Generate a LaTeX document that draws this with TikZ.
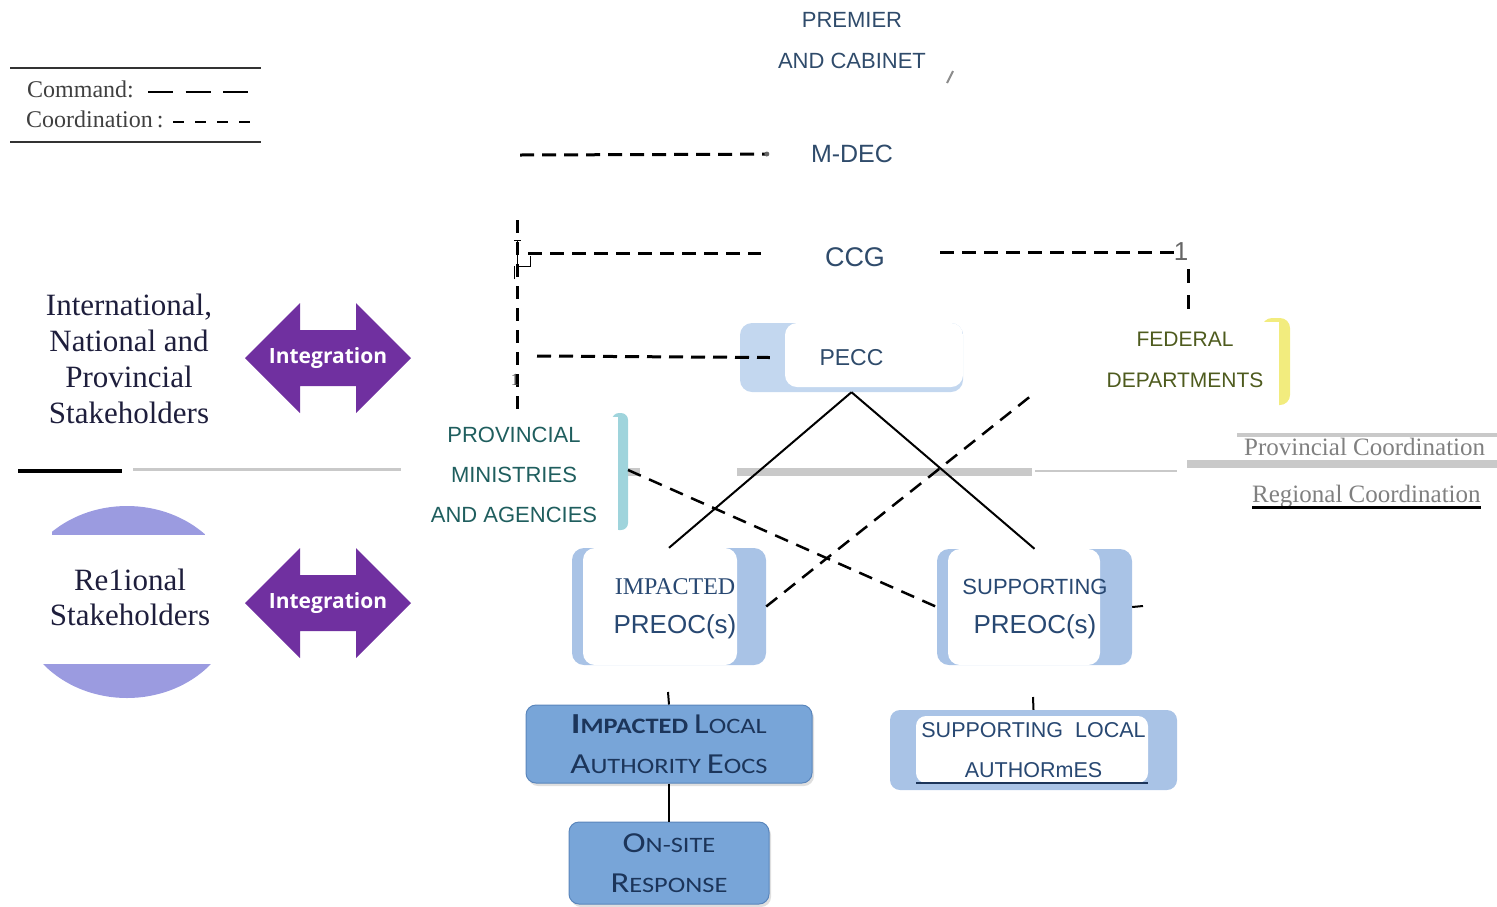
\documentclass[tikz,border=0pt]{standalone}
\usepackage{amssymb,amsmath}
\usepackage{fontspec}
\usepackage{tikz}
\usepackage{xcolor}
\usetikzlibrary{shadows}

\setmainfont{Liberation Serif}
\setsansfont{Liberation Sans}
\newfontfamily\calibfont[FakeStretch=1.2]{Carlito}
\newfontfamily\integfont{Open Sans}

\newcommand{\bigsc}[1]{{\fontsize{29}{40}\selectfont #1}}
\newcommand{\smsc}[1]{{\fontsize{22}{40}\selectfont #1}}

\definecolor{govblue}{HTML}{2F4B6B}
\definecolor{preoctext}{HTML}{284872}
\definecolor{fedgreen}{HTML}{4E5B1E}
\definecolor{pmateal}{HTML}{1F5E5E}
\definecolor{stripblue}{HTML}{A9C3E6}
\definecolor{peccblue}{HTML}{C3D7EF}
\definecolor{boxblue}{HTML}{78A5D8}
\definecolor{boxedge}{HTML}{5A86BC}
\definecolor{navy}{HTML}{1C355A}
\definecolor{intpurple}{HTML}{7030A0}
\definecolor{regfill}{HTML}{9B9BE0}
\definecolor{fedyellow}{HTML}{F2EC7E}
\definecolor{tealbar}{HTML}{9FD4DC}
\definecolor{linegray}{HTML}{C9C9C9}
\definecolor{darktext}{HTML}{1E1E3C}

\begin{document}
\begin{tikzpicture}[
    x = 1pt, y = -1pt, % one unit per pixel, y going down
    command/.style = {line width = 3pt, dash pattern = on 14pt off 8pt}, % command links
    coordline/.style = {line width = 2.5pt, dash pattern = on 14pt off 9pt}, % coordination links
    solidl/.style = {line width = 2pt},
    sep/.style = {draw = linegray},
    lbl/.style = {font = \sffamily, text = govblue, align = center, inner sep = 0pt},
    preoc/.style 2 args = {
        rounded corners = 12pt, fill = stripblue,
        minimum width = 194pt, minimum height = 117pt, inner sep = 0pt,
        path picture = {\fill[white] ([xshift=#1]path picture bounding box.north west)
            rectangle ([xshift=-#2]path picture bounding box.south east);}
    },
    preoctxt/.style = {font = \sffamily\fontsize{26}{39}\selectfont, text = preoctext,
        align = center, inner sep = 0pt},
    bigbox/.style = {rounded corners = 10pt, fill = boxblue, draw = boxedge, line width = 1pt,
        drop shadow = {opacity = 0.25, shadow xshift = 2pt, shadow yshift = -3pt},
        align = center, text = navy, font = \calibfont\fontsize{22}{40}\selectfont, inner sep = 0pt},
    integ/.style = {fill = intpurple},
    integtxt/.style = {font = \integfont\bfseries\fontsize{21}{24}\selectfont, text = white, inner sep = 0pt},
    legendtxt/.style = {font = \rmfamily\fontsize{24}{28}\selectfont, text = black!75, inner sep = 0pt},
    coordlbl/.style = {font = \rmfamily\fontsize{25}{30}\selectfont, text = black!50, inner sep = 0pt},
    tickmark/.style = {font = \rmfamily\fontsize{17}{20}\selectfont, text = black!70, inner sep = 0pt}
]
\useasboundingbox (0,0) rectangle (1497,906);

% legend
\draw[line width = 2pt, black!80] (10,68) -- (261,68);
\draw[line width = 2pt, black!80] (10,142) -- (261,142);
\node[legendtxt, anchor = base west] (cmdlbl) at (27,97) {Command:};
\node[legendtxt, anchor = base west] (coolbl) at (26,127) {Coordination\,:};
\draw[line width = 2pt, dash pattern = on 25pt off 12.5pt] (148,92) -- (248,92);
\draw[line width = 1.5pt, dash pattern = on 11pt off 11pt] (173,122) -- (252,122);

% separators
\draw[sep, line width = 3pt] (133,469) -- (401,469);
\draw[line width = 4pt] (18,471) -- (122,471);
\draw[sep, line width = 8pt] (737,472) -- (1032,472);
\draw[sep, line width = 2.5pt] (1035,471) -- (1177,471);
\draw[sep, line width = 8pt] (625,472) -- (640,472);
\draw[sep, line width = 8pt] (1187,464) -- (1497,464);
\draw[sep, line width = 4pt] (1237,435) -- (1497,435);
\node[coordlbl, anchor = base west] (provco) at (1244,455) {Provincial Coordination};
\node[coordlbl, anchor = base west] (regco) at (1252,502) {Regional Coordination};
\draw[line width = 3pt] (regco.south west) -- (regco.south east);

% stakeholders
\fill[regfill] (127,602) ellipse [x radius = 110pt, y radius = 96pt];
\fill[white] (5,535) rectangle (242,664);
\fill[white] (5,500) rectangle (52,540);
\fill[white] (205,500) rectangle (242,540);
\fill[white] (5,660) rectangle (40,705);
\fill[white] (212,660) rectangle (242,705);
\node[align = center, inner sep = 0pt, text = darktext, font = \rmfamily\fontsize{31}{36}\selectfont]
    (intl) at (129,359) {International,\\National and\\Provincial\\Stakeholders};
\node[align = center, inner sep = 0pt, text = darktext, font = \rmfamily\fontsize{31}{35}\selectfont]
    (regional) at (130,597.5) {Re1ional\\Stakeholders};

\fill[integ] (245,358) -- (300,303) -- (300,330) -- (356,330) -- (356,303) -- (411,358)
    -- (356,413) -- (356,386) -- (300,386) -- (300,413) -- cycle;
\node[integtxt] (intA) at (328,358) {Integration};
\fill[integ, shift = {(0,245)}] (245,358) -- (300,303) -- (300,330) -- (356,330) -- (356,303) -- (411,358)
    -- (356,413) -- (356,386) -- (300,386) -- (300,413) -- cycle;
\node[integtxt] (intB) at (328,603) {Integration};

% top of the structure
\node[lbl, font = \sffamily\fontsize{22}{41}\selectfont] (premier) at (852,40.5) {PREMIER\\AND CABINET};
\draw[line width = 2pt, black!45] (947,83) -- (953,71);
\node[lbl, font = \sffamily\fontsize{25}{30}\selectfont] (mdec) at (852,154) {M-DEC};
\node[lbl, font = \sffamily\fontsize{27}{32}\selectfont] (ccg) at (855,257) {CCG};

% boxes
\node[rounded corners = 12pt, fill = peccblue, minimum width = 223pt, minimum height = 69pt,
    font = \sffamily\fontsize{23}{28}\selectfont, text = govblue, inner sep = 0pt,
    path picture = {\fill[white] ([xshift=45pt,yshift=5pt]path picture bounding box.south west)
        rectangle (path picture bounding box.north east);}]
    (pecc) at (851.5,357.5) {PECC};

\fill[fedyellow, rounded corners = 10pt] (1262,318) rectangle (1290,405);
\fill[white] (1255,322) rectangle (1279,410);
\node[lbl, font = \sffamily\fontsize{21}{41}\selectfont, text = fedgreen] (federal) at (1185,359.5) {FEDERAL\\DEPARTMENTS};

\fill[tealbar, rounded corners = 7pt] (612,413) rectangle (628,530);
\fill[white] (605,417) rectangle (618,535);
\node[lbl, font = \sffamily\fontsize{22}{40}\selectfont, text = pmateal] (pma) at (514,475) {PROVINCIAL\\MINISTRIES\\AND AGENCIES};

\node[preoc = {11pt}{29pt}] (ipreoc) at (669,606.5) {};
\node[preoctxt] (ipreocT) at (675,609) {{\rmfamily\fontsize{24}{39}\selectfont IMPACTED}\\PREOC(s)};
\node[preoc = {11pt}{32pt}, minimum width = 195pt, minimum height = 116pt] (spreoc) at (1034.5,607) {};
\node[preoctxt] (spreocT) at (1035,609) {{\fontsize{22}{39}\selectfont SUPPORTING}\\PREOC(s)};

\node[bigbox, minimum width = 286pt, minimum height = 78pt] (ilocal) at (669,744)
    {{\bfseries\bigsc{I}\smsc{MPACTED}} \bigsc{L}\smsc{OCAL}\\\bigsc{A}\smsc{UTHORITY} \bigsc{E}\smsc{OCS}};
\node[bigbox, minimum width = 200pt, minimum height = 82pt] (onsite) at (669,863)
    {\bigsc{O}\smsc{N-SITE}\\\bigsc{R}\smsc{ESPONSE}};

\node[rounded corners = 10pt, fill = stripblue, minimum width = 287pt, minimum height = 80pt,
    inner sep = 0pt, align = center, text = preoctext, font = \sffamily\fontsize{21.5}{40}\selectfont,
    path picture = {\fill[white] ([xshift=26pt,yshift=7pt]path picture bounding box.south west)
        rectangle ([xshift=-29pt,yshift=-6pt]path picture bounding box.north east);
        \draw[navy, line width = 1.5pt] ([xshift=26pt,yshift=7pt]path picture bounding box.south west)
        -- ([xshift=-29pt,yshift=7pt]path picture bounding box.south east);}]
    (slocal) at (1033.5,750) {SUPPORTING\ \ LOCAL\\AUTHORmES};

% command links
\coordinate (mdecStart) at (520,155);
\draw[command, shorten >= 44pt] (mdecStart) -- (mdec.west);
\fill[black!60] ([xshift=-44pt]mdec.west) circle (2.5pt);
\coordinate (spineTop) at (517,220);
\coordinate (spineBot) at (517,410);
\draw[command, dash pattern = on 13pt off 9pt] (spineTop) -- (spineBot);
\draw[line width = 1pt] (514,240) -- (521,240) (517,240) -- (517,266) -- (530,266) -- (530,256);
\draw[line width = 0.8pt] (514,266) -- (514,279);
\node[tickmark] (tickA) at (515,380) {1};
\coordinate (ccgLeft) at (528,253);
\draw[command, shorten >= 64pt] (ccgLeft) -- (ccg.west |- ccgLeft);
\coordinate (fedCorner) at (1177,252);
\draw[command, shorten <= 55pt] (ccg.east |- fedCorner) -- (fedCorner);
\node[tickmark, text = black!60, font = \sffamily\fontsize{26}{30}\selectfont] (tickB) at (1181,252) {1};
\coordinate (fedDrop) at (1188,269);
\draw[command, dash pattern = on 14pt off 12pt, shorten >= 19pt] (fedDrop) -- (fedDrop |- federal.north);
\coordinate (peccLeft) at (537,356);
\draw[command] (peccLeft) -- ([xshift=30pt]pecc.west);

% PECC to PREOCs
\draw[solidl] (pecc.south) -- (ipreoc.north);
\draw[solidl] (pecc.south) -- (spreoc.north);

% coordination links
\coordinate (crossEnd) at (1032,395);
\draw[coordline] (ipreoc.east) -- (crossEnd);
\coordinate (pmaTip) at (628,470);
\draw[coordline] (pmaTip) -- (spreoc.west);

% down to local level
\coordinate (ilocalStub) at (668,692);
\draw[solidl] (ilocalStub) -- (ilocal.north);
\draw[solidl] (ilocal.south) -- (onsite.north);
\coordinate (slocalStub) at (1033,697);
\draw[solidl] (slocalStub) -- (slocal.north);
\coordinate (spreocStub) at (1143,606);
\draw[solidl] (spreoc.east) -- (spreocStub);
\end{tikzpicture}
\end{document}
